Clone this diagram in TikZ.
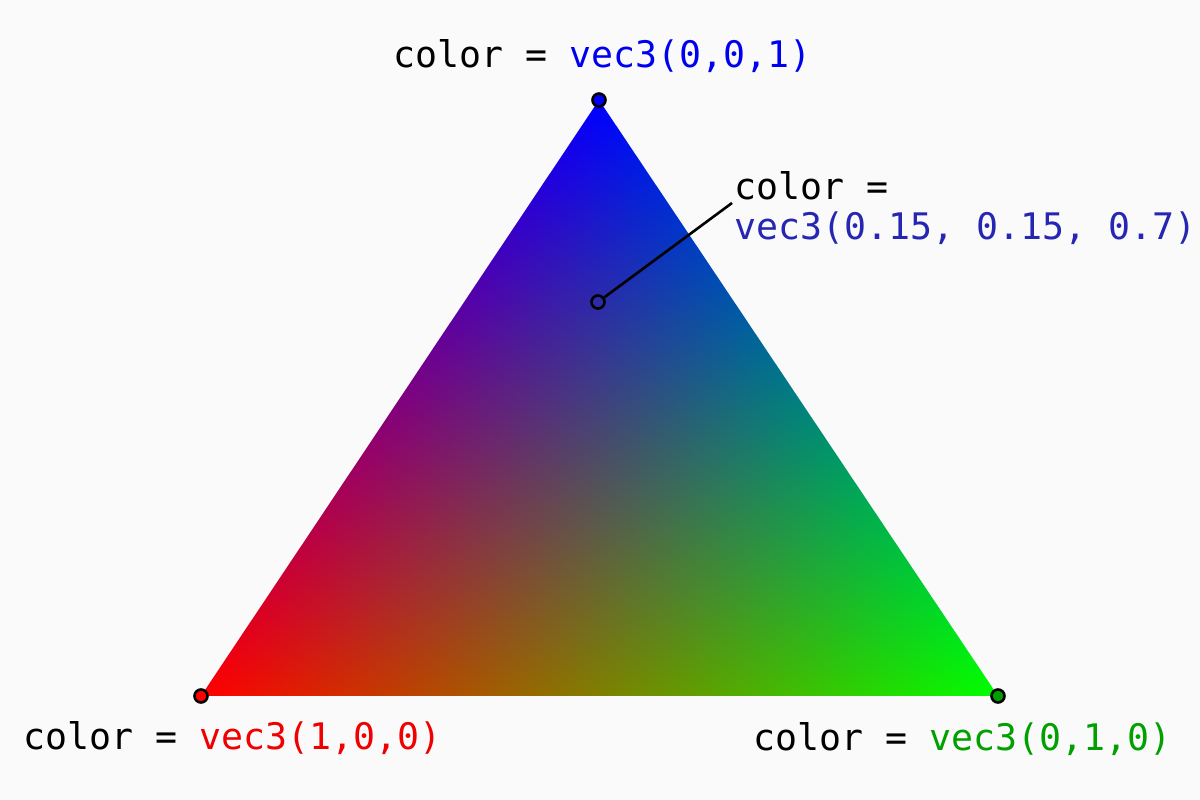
\documentclass[tikz,border=0pt]{standalone}
\usepackage{fontspec}
\setmonofont{DejaVu Sans Mono}
\usetikzlibrary{positioning}

\definecolor{bg}{RGB}{250,250,250}
\definecolor{vred}{RGB}{240,0,0}
\definecolor{vgreen}{RGB}{0,160,0}
\definecolor{vblue}{RGB}{0,0,240}
\definecolor{vmix}{RGB}{38,38,178}

% barycentric mix of red, green and blue over the whole canvas
\pgfdeclarefunctionalshading{rgbtri}{\pgfpointorigin}{\pgfpoint{1200bp}{800bp}}{}{
  104 sub 596 div exch 201 sub 596 mul 1 index 237208 mul sub 475012 div
  2 copy add 1 exch sub 3 1 roll exch
}

\begin{document}
\begin{tikzpicture}[x=1bp,y=1bp,
    lbl/.style={font=\ttfamily\fontsize{36.7}{40}\selectfont, inner sep=0pt},
    vdot/.style={circle, draw, line width=2.6bp, inner sep=0pt, minimum size=13bp}]
  \path[use as bounding box, fill=bg] (0,0) rectangle (1200,800);
  \coordinate (b) at (599,700);
  \coordinate (r) at (201,104);
  \coordinate (g) at (998,104);
  \begin{scope}
    \clip (r) -- (g) -- (b) -- cycle;
    \node[inner sep=0pt, anchor=south west] (grad) at (0,0) {\pgfuseshading{rgbtri}};
  \end{scope}
  \node[vdot, fill={rgb,255:red,0;green,0;blue,255}] (bdot) at (b) {};
  \node[vdot, fill={rgb,255:red,255;green,0;blue,0}] (rdot) at (r) {};
  \node[vdot, fill=vgreen] (gdot) at (g) {};
  \node[vdot] (cdot) at (598,498) {};
  % labels
  \node[lbl, anchor=base west] (blbl) at (393,732) {color = \textcolor{vblue}{vec3(0,0,1)}};
  \node[lbl, anchor=base west] (rlbl) at (23,50) {color = \textcolor{vred}{vec3(1,0,0)}};
  \node[lbl, anchor=base west] (glbl) at (753,49) {color = \textcolor{vgreen}{vec3(0,1,0)}};
  \node[lbl, anchor=base west] (clbl) at (734,600) {color =};
  \node[lbl, anchor=base west, text=vmix] (cval) at (734,560) {vec3(0.15, 0.15, 0.7)};
  \coordinate (cend) at (732,597);
  \draw[line width=2.6bp] (cdot) -- (cend);
\end{tikzpicture}
\end{document}
